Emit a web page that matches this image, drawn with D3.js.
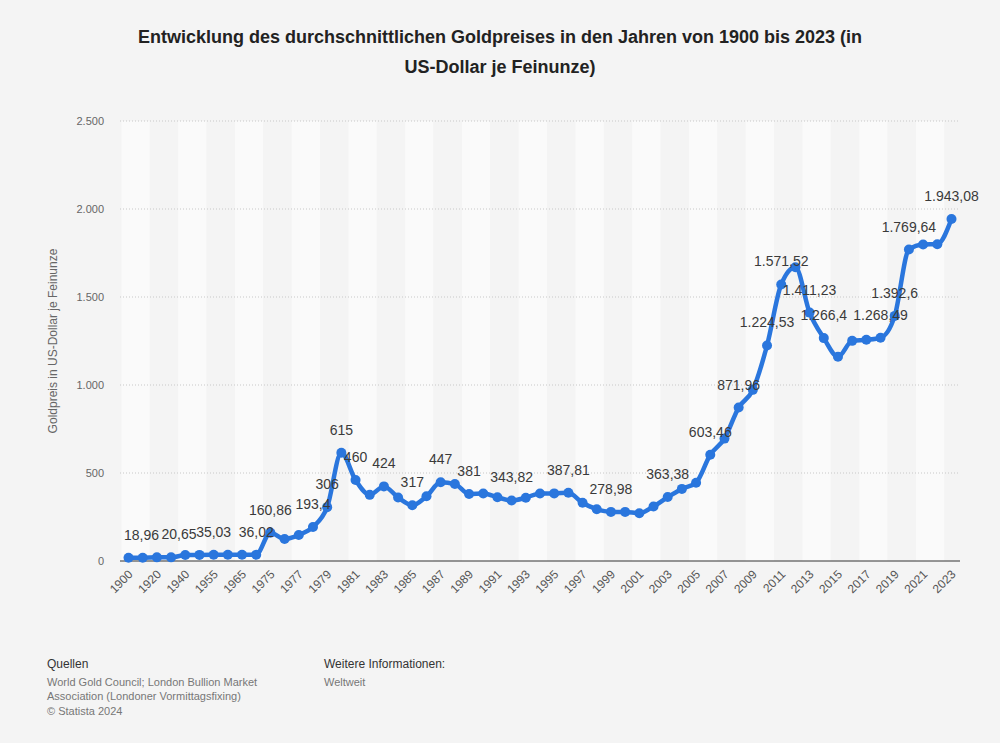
<!DOCTYPE html><html><head><meta charset="utf-8"><script src="https://cdn.jsdelivr.net/npm/d3@7"></script>
<style>body{margin:0;background:#f4f4f4;font-family:"Liberation Sans",Arial,sans-serif}</style></head><body><svg id="c" width="1000" height="743"></svg>
<script>
const years=["1900","1910","1920","1930","1940","1950","1955","1960","1965","1970","1975","1976","1977","1978","1979","1980","1981","1982","1983","1984","1985","1986","1987","1988","1989","1990","1991","1992","1993","1994","1995","1996","1997","1998","1999","2000","2001","2002","2003","2004","2005","2006","2007","2008","2009","2010","2011","2012","2013","2014","2015","2016","2017","2018","2019","2020","2021","2022","2023"];
const prices=[18.96,18.92,20.65,20.65,33.85,34.72,35.03,35.27,35.12,36.02,160.86,124.74,147.84,193.4,306,615,460,375.8,424,360.66,317,367.66,447,437,381,383.51,362.11,343.82,359.77,384,384.17,387.81,331.02,294.24,278.98,279.11,271.04,309.73,363.38,409.72,444.74,603.46,695.39,871.96,972.35,1224.53,1571.52,1668.98,1411.23,1266.4,1160.06,1250.74,1257.12,1268.49,1392.6,1769.64,1798.61,1800.09,1943.08];
const labeled=["1900","1930","1955","1970","1975","1978","1979","1980","1981","1983","1985","1987","1989","1992","1996","1999","2003","2006","2008","2010","2011","2013","2014","2018","2019","2020","2023"];
const yTicks=[0,500,1000,1500,2000,2500];
const svg=d3.select("#c");
const L=120,R=960,T=121,B=561;
const x=d3.scalePoint().domain(years).range([L,R]).padding(0.6);
const y=d3.scaleLinear().domain([0,2500]).range([B,T]);
const fmt=v=>{let s=d3.format(",")(v);return s.replace(/,/g,"#").replace(/\./g,",").replace(/#/g,".");};
const step=x.step();
svg.append("g").selectAll("rect").data(years.filter((d,i)=>i%2==0)).join("rect")
 .attr("x",d=>Math.max(L,x(d)-step/2)).attr("y",T).attr("width",d=>Math.min(2*step,R-(x(d)-step/2))).attr("height",B-T)
 .attr("fill",(d,i)=>i%2==0?"#fafafa":"#f4f4f4");
svg.append("g").selectAll("line").data(yTicks.slice(1)).join("line")
 .attr("x1",L).attr("x2",R).attr("y1",d=>y(d)).attr("y2",d=>y(d))
 .attr("stroke","#c8c8c8").attr("stroke-dasharray","1,2");
svg.append("line").attr("x1",L).attr("x2",R).attr("y1",B).attr("y2",B).attr("stroke","#333");
svg.append("g").selectAll("text").data(yTicks).join("text")
 .attr("x",104).attr("y",d=>y(d)+4).attr("text-anchor","end").attr("font-size",11).attr("fill","#666").text(fmt);
svg.append("g").selectAll("text").data(years.filter((d,i)=>i%2==0)).join("text")
 .attr("transform",d=>`translate(${x(d)+5},${B+14}) rotate(-45)`).attr("text-anchor","end")
 .attr("font-size",12).attr("fill","#555").text(d=>d);
svg.append("text").attr("transform","translate(57,341) rotate(-90)").attr("text-anchor","middle")
 .attr("font-size",12).attr("fill","#666").text("Goldpreis in US-Dollar je Feinunze");
const line=d3.line().x((d,i)=>x(years[i])).y(d=>y(d)).curve(d3.curveMonotoneX);
svg.append("path").datum(prices).attr("d",line).attr("fill","none").attr("stroke","#2a76dd").attr("stroke-width",4.5);
svg.append("g").selectAll("circle").data(prices).join("circle")
 .attr("cx",(d,i)=>x(years[i])).attr("cy",d=>y(d)).attr("r",5).attr("fill","#2a76dd");
svg.append("g").selectAll("text").data(years.map((yr,i)=>[yr,prices[i]]).filter(d=>labeled.includes(d[0]))).join("text")
 .attr("x",(d,i)=>i==0?L+4:(i==1?x(d[0])+8:x(d[0]))).attr("y",d=>y(d[1])-18)
 .attr("text-anchor",(d,i)=>i==0?"start":"middle")
 .attr("font-size",14).attr("fill","#3a3a3a").text(d=>fmt(d[1]));
svg.append("text").attr("x",500).attr("y",43).attr("text-anchor","middle").attr("font-size",18).attr("font-weight","bold").attr("fill","#222").text("Entwicklung des durchschnittlichen Goldpreises in den Jahren von 1900 bis 2023 (in");
svg.append("text").attr("x",500).attr("y",73).attr("text-anchor","middle").attr("font-size",18).attr("font-weight","bold").attr("fill","#222").text("US-Dollar je Feinunze)");
const foot=(x0,yy,t,c,s)=>svg.append("text").attr("x",x0).attr("y",yy).attr("font-size",s).attr("fill",c).text(t);
foot(47,668,"Quellen","#333",12);
foot(47,686,"World Gold Council; London Bullion Market","#777",11);
foot(47,700,"Association (Londoner Vormittagsfixing)","#777",11);
foot(47,715,"© Statista 2024","#777",11);
foot(324,668,"Weitere Informationen:","#333",12);
foot(324,686,"Weltweit","#777",11);
</script></body></html>
